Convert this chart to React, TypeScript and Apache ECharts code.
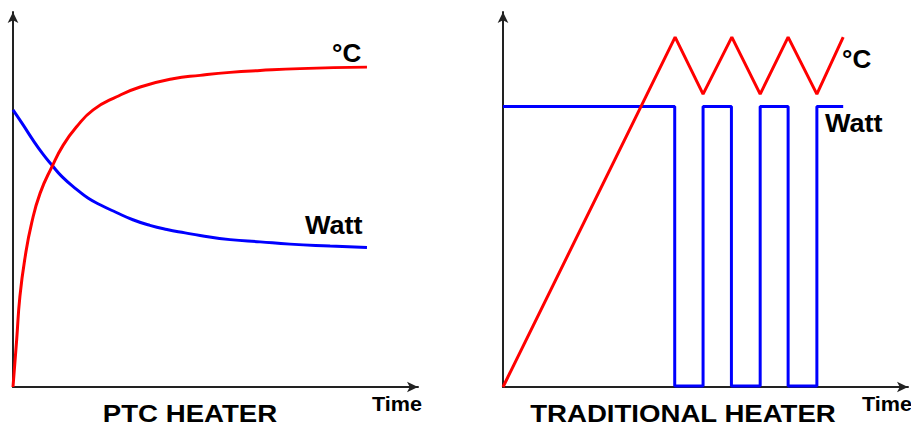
import React, { useEffect, useRef } from "react";
import * as echarts from "echarts";

// PTC heater curves: [time, value] in a 0..100 scale
const ptcTemp: [number, number][] = [
  [0, 0], [0.9, 12.5], [1.7, 24.1], [3.0, 34.7], [4.6, 43.7], [6.7, 51.7], [9.6, 58.7],
  [12.4, 64.5], [15.7, 69.4], [19.8, 73.9], [25.6, 77.4], [31.4, 80.0], [39.5, 82.2],
  [46.2, 83.1], [53.6, 83.9], [61.0, 84.4], [70.9, 84.9], [87.4, 85.3],
];
const ptcWatt: [number, number][] = [
  [0, 73.9], [2.5, 69.9], [4.9, 65.9], [7.4, 62.1], [9.6, 59.2], [12.1, 56.1], [15.7, 52.7],
  [18.5, 50.4], [21.5, 48.6], [25.4, 46.6], [29.6, 44.6], [33.8, 43.1], [38.0, 42.0],
  [42.5, 41.1], [46.2, 40.4], [53.6, 39.3], [61.0, 38.7], [68.4, 38.1], [78.3, 37.6], [87.4, 37.2],
];
// Traditional heater: thermostat on/off cycling
const tradTemp: [number, number][] = [
  [0, 0], [42.5, 93.3], [49.4, 78.1], [56.5, 93.3], [63.5, 78.1], [70.4, 93.3], [77.5, 78.1], [84.0, 93.3],
];
const tradWatt: [number, number][] = [
  [0, 74.8], [42.4, 74.8], [42.4, 0.3], [49.4, 0.3], [49.4, 74.8], [56.4, 74.8], [56.4, 0.3],
  [63.5, 0.3], [63.5, 74.8], [70.4, 74.8], [70.4, 0.3], [77.5, 0.3], [77.5, 74.8], [84.0, 74.8],
];
const titles = ["PTC HEATER", "TRADITIONAL HEATER"];
const axisName = "Time";
const tempLabel = "°C";
const wattLabel = "Watt";

const FONT = "Liberation Sans, Arial, sans-serif";

export default function App() {
  const ref = useRef<HTMLDivElement>(null);
  useEffect(() => {
    if (!ref.current) return;
    const chart = echarts.init(ref.current, undefined, { renderer: "svg" });
    const axisLine = {
      show: true,
      lineStyle: { color: "#222", width: 2 },
      symbol: ["none", "arrow"],
      symbolSize: [8, 11],
    };
    const mkAxis = (gi: number) => ({
      type: "value", gridIndex: gi, min: 0, max: 100,
      axisLine, axisTick: { show: false }, axisLabel: { show: false }, splitLine: { show: false },
    });
    const txt = (text: string, x: number, y: number, size: number, align: string, sx = 1) => ({
      type: "text", x, y, scaleX: sx, z: 100,
      style: { text, font: `bold ${size}px ${FONT}`, fill: "#000", textAlign: align, textVerticalAlign: "middle" },
    });
    const smoothLine = { smooth: 0.5, showSymbol: false };
    chart.setOption({
      animation: false,
      backgroundColor: "#fff",
      grid: [
        { left: 13, top: 12, width: 405, height: 375 },
        { left: 503, top: 12, width: 405, height: 375 },
      ],
      xAxis: [mkAxis(0), mkAxis(1)],
      yAxis: [mkAxis(0), mkAxis(1)],
      series: [
        { type: "line", xAxisIndex: 0, yAxisIndex: 0, data: ptcWatt, ...smoothLine, lineStyle: { color: "#0000ff", width: 3 } },
        { type: "line", xAxisIndex: 0, yAxisIndex: 0, data: ptcTemp, ...smoothLine, lineStyle: { color: "#ff0000", width: 3 } },
        { type: "line", xAxisIndex: 1, yAxisIndex: 1, data: tradWatt, showSymbol: false, lineStyle: { color: "#0000ff", width: 3 } },
        { type: "line", xAxisIndex: 1, yAxisIndex: 1, data: tradTemp, showSymbol: false, lineStyle: { color: "#ff0000", width: 3 } },
      ],
      graphic: [
        txt(titles[0], 190, 414, 24, "center", 1.15),
        txt(titles[1], 683, 414, 24, "center", 1.15),
        txt(axisName, 372, 404, 20, "left", 1.08),
        txt(axisName, 862, 404, 20, "left", 1.08),
        txt(tempLabel, 332, 53, 26, "left"),
        txt(wattLabel, 305, 225, 26, "left", 1.04),
        txt(tempLabel, 842, 59, 26, "left"),
        txt(wattLabel, 825, 123, 26, "left", 1.04),
      ],
    });
    return () => chart.dispose();
  }, []);
  return <div ref={ref} style={{ position: "fixed", left: 0, top: 0, width: 911, height: 427 }} />;
}
